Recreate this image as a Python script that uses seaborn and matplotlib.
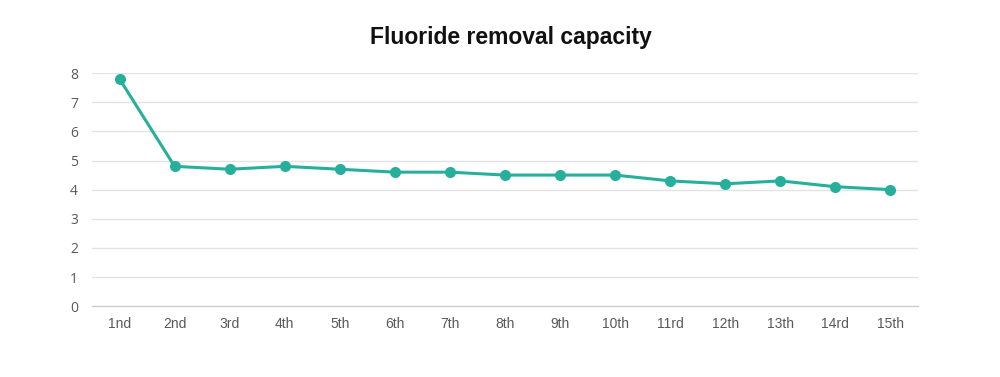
import matplotlib
matplotlib.use("Agg")
import matplotlib.pyplot as plt
import seaborn as sns
import pandas as pd

cycles = ["1nd", "2nd", "3rd", "4th", "5th", "6th", "7th", "8th", "9th",
          "10th", "11rd", "12th", "13th", "14rd", "15th"]
capacity = [7.8, 4.8, 4.7, 4.8, 4.7, 4.6, 4.6, 4.5, 4.5, 4.5, 4.3, 4.2, 4.3, 4.1, 4.0]

df = pd.DataFrame({"cycle": cycles, "capacity": capacity})

sns.set_style("white")
plt.rcParams['font.family'] = ['Liberation Sans', 'DejaVu Sans']

fig = plt.figure(figsize=(10, 3.77), dpi=100)
ax = fig.add_axes([0.092, 0.188, 0.826, 0.618])

sns.lineplot(data=df, x="cycle", y="capacity", ax=ax, color="#26b09c",
             linewidth=2.2, marker="o", markersize=8, markeredgewidth=0, sort=False)

ax.set_xlim(-0.5, len(cycles) - 0.5)
ax.set_ylim(0, 8)
ax.set_yticks(range(0, 9))
ax.grid(axis="y", color="#e3e3e3", linewidth=1)
ax.set_axisbelow(True)
for s in ["top", "right", "left"]:
    ax.spines[s].set_visible(False)
ax.spines["bottom"].set_color("#c8c8c8")
ax.tick_params(axis="both", length=0, colors="#595959")
ax.tick_params(axis="x", pad=8)
ax.tick_params(axis="y", pad=10)
for lab in ax.get_xticklabels():
    lab.set_family(['Liberation Sans Narrow', 'Liberation Sans', 'DejaVu Sans'])
    lab.set_fontsize(10)
for lab in ax.get_yticklabels():
    lab.set_family(['Open Sans', 'DejaVu Sans'])
    lab.set_fontsize(10)
ax.set_xlabel("")
ax.set_ylabel("")

fig.text(0.511, 0.9, "Fluoride removal capacity", ha="center", va="center",
         fontsize=16.5, fontweight="bold", color="#111111")

fig.savefig("out.png", dpi=100, facecolor="white")
